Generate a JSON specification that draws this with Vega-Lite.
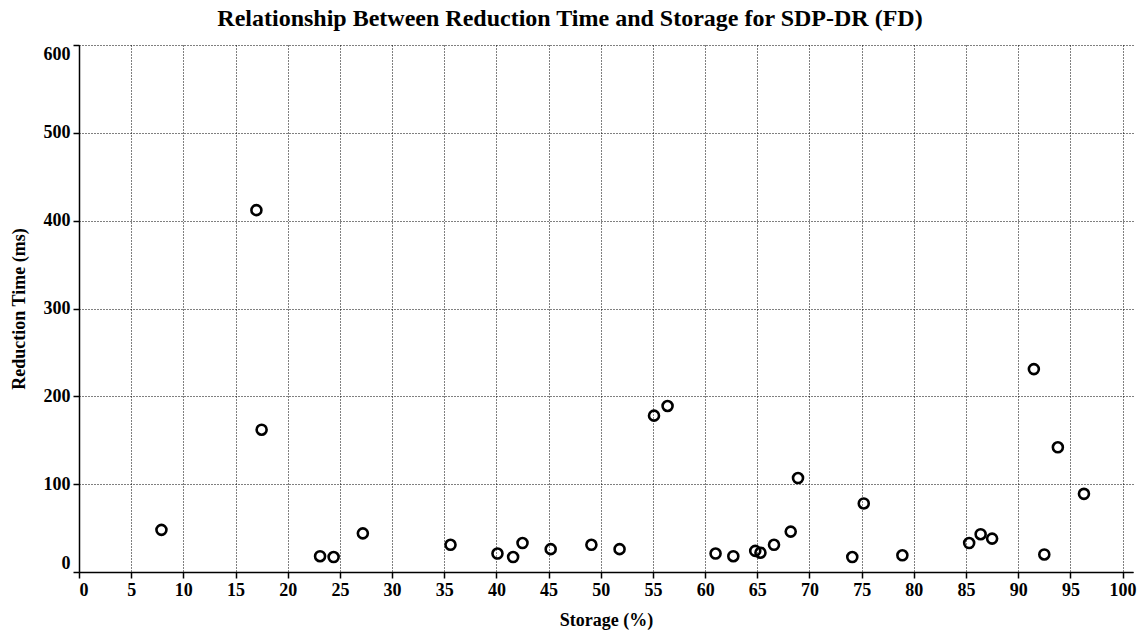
{
  "$schema": "https://vega.github.io/schema/vega-lite/v6.json",
  "width": 1054,
  "height": 527,
  "autosize": "none",
  "padding": {"left": 79, "top": 45, "right": 6, "bottom": 63},
  "background": "white",
  "title": {
    "text": "Relationship Between Reduction Time and Storage for SDP-DR (FD)",
    "font": "Liberation Serif",
    "fontSize": 24,
    "fontWeight": "bold",
    "color": "black",
    "anchor": "middle",
    "dx": -36,
    "offset": 13
  },
  "data": {
    "values": [
      {"storage": 7.9, "time": 48},
      {"storage": 17.0, "time": 412},
      {"storage": 17.5, "time": 162},
      {"storage": 23.1, "time": 18},
      {"storage": 24.4, "time": 17},
      {"storage": 27.2, "time": 44},
      {"storage": 35.6, "time": 31},
      {"storage": 40.1, "time": 21},
      {"storage": 41.6, "time": 17},
      {"storage": 42.5, "time": 33},
      {"storage": 45.2, "time": 26},
      {"storage": 49.1, "time": 31},
      {"storage": 51.8, "time": 26},
      {"storage": 55.1, "time": 178},
      {"storage": 56.4, "time": 189},
      {"storage": 61.0, "time": 21},
      {"storage": 62.7, "time": 18},
      {"storage": 64.8, "time": 24},
      {"storage": 65.3, "time": 22},
      {"storage": 66.6, "time": 31},
      {"storage": 68.2, "time": 46},
      {"storage": 68.9, "time": 107},
      {"storage": 74.1, "time": 17},
      {"storage": 75.2, "time": 78},
      {"storage": 78.9, "time": 19},
      {"storage": 85.3, "time": 33},
      {"storage": 86.4, "time": 43},
      {"storage": 87.5, "time": 38},
      {"storage": 91.5, "time": 231},
      {"storage": 92.5, "time": 20},
      {"storage": 93.8, "time": 142},
      {"storage": 96.3, "time": 89}
    ]
  },
  "mark": {"type": "point", "shape": "circle", "filled": false, "stroke": "black", "strokeWidth": 2.6, "size": 100, "opacity": 1},
  "encoding": {
    "x": {
      "field": "storage",
      "type": "quantitative",
      "title": "Storage (%)",
      "scale": {"domain": [0, 101], "nice": false, "zero": false},
      "axis": {"values": [0,5,10,15,20,25,30,35,40,45,50,55,60,65,70,75,80,85,90,95,100]}
    },
    "y": {
      "field": "time",
      "type": "quantitative",
      "title": "Reduction Time (ms)",
      "scale": {"domain": [0, 600], "nice": false},
      "axis": {"values": [0,100,200,300,400,500,600], "labelFlush": true}
    }
  },
  "config": {
    "view": {"stroke": null},
    "axis": {
      "labelFont": "Liberation Serif",
      "labelFontSize": 18,
      "labelFontWeight": "bold",
      "labelColor": "black",
      "titleFont": "Liberation Serif",
      "titleFontSize": 18,
      "titleFontWeight": "bold",
      "titleColor": "black",
      "domainColor": "black",
      "domainWidth": 1.5,
      "tickColor": "black",
      "tickSize": 6,
      "tickWidth": 1.5,
      "labelPadding": 3,
      "grid": true,
      "gridColor": "black",
      "gridDash": [1, 2],
      "gridWidth": 1,
      "gridOpacity": 1
    },
    "axisX": {"titlePadding": 12},
    "axisY": {"titlePadding": 15}
  }
}
